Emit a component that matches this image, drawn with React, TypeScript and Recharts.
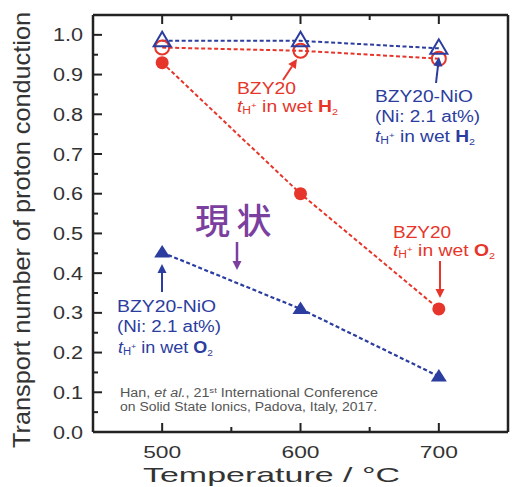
import React from 'react';
import { LineChart, Line, XAxis, YAxis } from 'recharts';

const temperatures = [500, 600, 700];
const bzy20WetO2 = [0.93, 0.6, 0.31];
const bzy20WetH2 = [0.968, 0.96, 0.94];
const niWetH2 = [0.985, 0.985, 0.966];
const niWetO2 = [0.452, 0.31, 0.14];

const xTicks = [500, 550, 600, 650, 700];
const xTickLabels = ['500', '', '600', '', '700'];
const yTicks = [0, 0.05, 0.1, 0.15, 0.2, 0.25, 0.3, 0.35, 0.4, 0.45, 0.5, 0.55, 0.6, 0.65, 0.7, 0.75, 0.8, 0.85, 0.9, 0.95, 1.0];
const yTickLabels = ['0.0', '', '0.1', '', '0.2', '', '0.3', '', '0.4', '', '0.5', '', '0.6', '', '0.7', '', '0.8', '', '0.9', '', '1.0'];

const data = temperatures.map((t, i) => ({
  t,
  o2: bzy20WetO2[i],
  h2: bzy20WetH2[i],
  niH2: niWetH2[i],
  niO2: niWetO2[i],
}));

const RED = '#e6352a';
const BLUE = '#2b3d9e';
const PURPLE = '#7b3f9f';
const AXIS = '#222';
const TXT = '#333';
const FONT = '"Liberation Sans", Arial, sans-serif';

const yLabel = (v: number) => yTickLabels[yTicks.indexOf(v)] || '';
const xLabel = (v: number) => xTickLabels[xTicks.indexOf(v)] || '';

const LeftTick = (p: any) => {
  const lab = yLabel(p.payload.value);
  const len = lab ? 9 : 5;
  return (
    <g>
      <line x1={p.x} y1={p.y} x2={p.x + len} y2={p.y} stroke={AXIS} strokeWidth={2} />
      {lab && (
        <text x={p.x - 10} y={p.y + 6.5} textAnchor="end" fontSize={18} fill={TXT} fontFamily={FONT} textLength={30} lengthAdjust="spacingAndGlyphs">
          {lab}
        </text>
      )}
    </g>
  );
};

const RightTick = (p: any) => {
  const lab = yLabel(p.payload.value);
  const len = lab ? 9 : 5;
  return <line x1={p.x} y1={p.y} x2={p.x - len} y2={p.y} stroke={AXIS} strokeWidth={2} />;
};

const BottomTick = (p: any) => {
  const lab = xLabel(p.payload.value);
  const len = lab ? 9 : 5;
  return (
    <g>
      <line x1={p.x} y1={p.y} x2={p.x} y2={p.y - len} stroke={AXIS} strokeWidth={2} />
      {lab && (
        <text x={p.x} y={p.y + 26} textAnchor="middle" fontSize={17} fill={TXT} fontFamily={FONT} textLength={38} lengthAdjust="spacingAndGlyphs">
          {lab}
        </text>
      )}
    </g>
  );
};

const TopTick = (p: any) => {
  const lab = xLabel(p.payload.value);
  const len = lab ? 9 : 5;
  return <line x1={p.x} y1={p.y} x2={p.x} y2={p.y + len} stroke={AXIS} strokeWidth={2} />;
};

const FilledCircle = (p: any) => <circle key={p.index} cx={p.cx} cy={p.cy} r={6.5} fill={RED} />;
const OpenCircle = (p: any) => <circle key={p.index} cx={p.cx} cy={p.cy} r={7} fill="none" stroke={RED} strokeWidth={2} />;
const OpenTri = (p: any) => (
  <polygon key={p.index} points={`${p.cx},${p.cy - 9} ${p.cx - 8.5},${p.cy + 5.5} ${p.cx + 8.5},${p.cy + 5.5}`} fill="none" stroke={BLUE} strokeWidth={2} />
);
const FilledTri = (p: any) => (
  <polygon key={p.index} points={`${p.cx},${p.cy - 7.5} ${p.cx - 8},${p.cy + 5} ${p.cx + 8},${p.cy + 5}`} fill={BLUE} />
);

const Arrow = ({ x1, y1, x2, y2, color, w = 2 }: any) => {
  const dx = x2 - x1;
  const dy = y2 - y1;
  const L = Math.sqrt(dx * dx + dy * dy);
  const ux = dx / L;
  const uy = dy / L;
  const hl = 9;
  const hw = 4.5;
  const bx = x2 - ux * hl;
  const by = y2 - uy * hl;
  return (
    <g>
      <line x1={x1} y1={y1} x2={bx} y2={by} stroke={color} strokeWidth={w} />
      <polygon points={`${x2},${y2} ${bx - uy * hw},${by + ux * hw} ${bx + uy * hw},${by - ux * hw}`} fill={color} />
    </g>
  );
};

const TH = ({ gas }: { gas: string }) => (
  <>
    <tspan fontStyle="italic">t</tspan>
    <tspan fontSize={10} dy={2}>H</tspan>
    <tspan fontSize={8} dy={-6}>+</tspan>
    <tspan dy={4}> in wet </tspan>
    <tspan fontWeight="bold">{gas}</tspan>
    <tspan fontSize={9} dy={3}>2</tspan>
  </>
);

const CJK = '"Noto Sans CJK JP", "Noto Sans CJK SC", sans-serif';

const Overlay = () => (
  <svg width={515} height={487} style={{ position: 'absolute', left: 0, top: 0, pointerEvents: 'none' }} fontFamily={FONT}>
    {/* axis titles */}
    <text x={143} y={482} fontSize={21} fill={TXT} textLength={257} lengthAdjust="spacingAndGlyphs">Temperature / °C</text>
    <text transform="translate(30,230) rotate(-90)" textAnchor="middle" fontSize={24} fill={TXT} textLength={436} lengthAdjust="spacingAndGlyphs">
      Transport number of proton conduction
    </text>

    {/* BZY20 wet H2 */}
    <text x={237} y={94} fontSize={16} fill={RED} textLength={59} lengthAdjust="spacingAndGlyphs">BZY20</text>
    <text x={237} y={112} fontSize={16} fill={RED} textLength={101} lengthAdjust="spacingAndGlyphs"><TH gas="H" /></text>
    <Arrow x1={283} y1={80} x2={297} y2={59} color={RED} />

    {/* BZY20-NiO wet H2 */}
    <text x={375} y={101.5} fontSize={16} fill={BLUE} textLength={98} lengthAdjust="spacingAndGlyphs">BZY20-NiO</text>
    <text x={375} y={121.5} fontSize={16} fill={BLUE} textLength={105} lengthAdjust="spacingAndGlyphs">(Ni: 2.1 at%)</text>
    <text x={375} y={141.5} fontSize={16} fill={BLUE} textLength={100} lengthAdjust="spacingAndGlyphs"><TH gas="H" /></text>
    <Arrow x1={436} y1={83} x2={439} y2={57} color={BLUE} />

    {/* 現状 */}
    <text x={212.5} y={234} textAnchor="middle" fontSize={35} fontWeight={500} fill={PURPLE} fontFamily={CJK}>現</text>
    <text x={254} y={234} textAnchor="middle" fontSize={35} fontWeight={500} fill={PURPLE} fontFamily={CJK}>状</text>
    <Arrow x1={237} y1={242} x2={237} y2={270} color={PURPLE} w={2.5} />

    {/* BZY20 wet O2 */}
    <text x={393} y={238} fontSize={16} fill={RED} textLength={58} lengthAdjust="spacingAndGlyphs">BZY20</text>
    <text x={393} y={256} fontSize={16} fill={RED} textLength={102} lengthAdjust="spacingAndGlyphs"><TH gas="O" /></text>
    <Arrow x1={440} y1={261} x2={440} y2={298} color={RED} />

    {/* BZY20-NiO wet O2 */}
    <text x={117} y={312} fontSize={16} fill={BLUE} textLength={99} lengthAdjust="spacingAndGlyphs">BZY20-NiO</text>
    <text x={117} y={332} fontSize={16} fill={BLUE} textLength={104} lengthAdjust="spacingAndGlyphs">(Ni: 2.1 at%)</text>
    <text x={118} y={353} fontSize={16} fill={BLUE} textLength={95} lengthAdjust="spacingAndGlyphs"><TH gas="O" /></text>
    <Arrow x1={162} y1={292} x2={162} y2={264} color={BLUE} />

    {/* citation */}
    <text x={120} y={397} fontSize={12} fill="#555" textLength={258} lengthAdjust="spacingAndGlyphs">
      Han, <tspan fontStyle="italic">et al.</tspan>, 21<tspan fontSize={8} dy={-4}>st</tspan><tspan dy={4}> International Conference</tspan>
    </text>
    <text x={120} y={411} fontSize={12} fill="#555" textLength={257} lengthAdjust="spacingAndGlyphs">
      on Solid State Ionics, Padova, Italy, 2017.
    </text>
  </svg>
);

export default function App() {
  return (
    <div style={{ position: 'absolute', left: 0, top: 0, width: 515, height: 487, background: '#fff' }}>
      <LineChart width={515} height={487} data={data} margin={{ top: 0, right: 6, bottom: 0, left: 0 }}>
        <XAxis xAxisId="b" dataKey="t" type="number" domain={[450, 750]} ticks={xTicks} interval={0} orientation="bottom" height={55}
          tickSize={0} tickMargin={0} tickLine={false} tick={<BottomTick />} axisLine={{ stroke: AXIS, strokeWidth: 2.5 }} />
        <XAxis xAxisId="t" dataKey="t" type="number" domain={[450, 750]} ticks={xTicks} interval={0} orientation="top" height={15}
          tickSize={0} tickMargin={0} tickLine={false} tick={<TopTick />} axisLine={{ stroke: AXIS, strokeWidth: 2.5 }} />
        <YAxis yAxisId="l" type="number" domain={[0, 1.05]} ticks={yTicks} interval={0} orientation="left" width={93}
          tickSize={0} tickMargin={0} tickLine={false} tick={<LeftTick />} axisLine={{ stroke: AXIS, strokeWidth: 2.5 }} />
        <YAxis yAxisId="r" type="number" domain={[0, 1.05]} ticks={yTicks} interval={0} orientation="right" width={1}
          tickSize={0} tickMargin={0} tickLine={false} tick={<RightTick />} axisLine={{ stroke: AXIS, strokeWidth: 2.5 }} />
        <Line xAxisId="b" yAxisId="l" dataKey="o2" stroke={RED} strokeWidth={2} strokeDasharray="4 2.5" dot={FilledCircle} isAnimationActive={false} />
        <Line xAxisId="b" yAxisId="l" dataKey="niO2" stroke={BLUE} strokeWidth={2.2} strokeDasharray="4 2.5" dot={FilledTri} isAnimationActive={false} />
        <Line xAxisId="b" yAxisId="l" dataKey="h2" stroke={RED} strokeWidth={2} strokeDasharray="4 2.5" dot={OpenCircle} isAnimationActive={false} />
        <Line xAxisId="b" yAxisId="l" dataKey="niH2" stroke={BLUE} strokeWidth={2} strokeDasharray="4 2.5" dot={OpenTri} isAnimationActive={false} />
      </LineChart>
      <Overlay />
    </div>
  );
}
